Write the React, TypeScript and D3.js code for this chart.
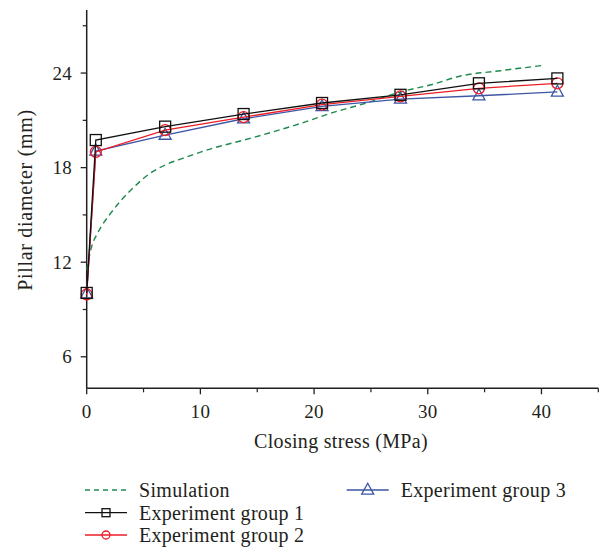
import React from "react";
import * as d3 from "d3";

const stressX = [0, 0.8, 6.9, 13.8, 20.7, 27.6, 34.5, 41.4];
const group1 = [10.05, 19.75, 20.6, 21.4, 22.1, 22.62, 23.35, 23.66];
const group2 = [9.95, 19.0, 20.38, 21.2, 22.0, 22.52, 23.03, 23.35];
const group3 = [10.0, 19.05, 20.06, 21.1, 21.88, 22.35, 22.56, 22.8];

const simX = [0, 0.4, 1.0, 2.0, 3.0, 4.2, 5.5, 7.0, 8.5, 10.5, 14.6, 18.8, 21.7, 24.6, 27.6, 30.5, 32.8, 36.4, 40.3];
const simY = [11.5, 12.9, 13.9, 15.0, 15.9, 16.8, 17.6, 18.2, 18.6, 19.1, 19.9, 20.8, 21.5, 22.1, 22.8, 23.3, 23.8, 24.15, 24.5];

const xTicks = [0, 10, 20, 30, 40];
const xMinor = [5, 15, 25, 35, 45];
const yTicks = [6, 12, 18, 24];
const yMinor = [9, 15, 21, 27];

const seriesNames = ["Simulation", "Experiment group 1", "Experiment group 2", "Experiment group 3"];

const W = 601, H = 548;
const left = 86.7, right = 598.3, top = 10, bottom = 388.3;
const FONT = "'Liberation Serif', 'DejaVu Serif', serif";
const AXIS = "#231f20";
const GREEN = "#1b8a4c";
const RED = "#ee1c25";
const BLUE = "#3d55a5";

function Marker({ kind, x, y, color, s }: { kind: string; x: number; y: number; color: string; s: number }) {
  if (kind === "square") {
    return <rect x={x - s / 2} y={y - s / 2} width={s} height={s} fill="none" stroke={color} strokeWidth={1.3} />;
  }
  if (kind === "circle") {
    return <circle cx={x} cy={y} r={s / 2} fill="none" stroke={color} strokeWidth={1.3} />;
  }
  const h = s * 0.9;
  const path = `M${x},${y - h * 0.62} L${x + s / 2},${y + h * 0.38} L${x - s / 2},${y + h * 0.38} Z`;
  return <path d={path} fill="none" stroke={color} strokeWidth={1.3} />;
}

export default function App() {
  const xs = d3.scaleLinear().domain([0, 45]).range([left, right]);
  const ys = d3.scaleLinear().domain([4, 28]).range([bottom, top]);
  const line = d3.line<[number, number]>().x((d) => xs(d[0])).y((d) => ys(d[1]));
  const simLine = d3
    .line<[number, number]>()
    .x((d) => xs(d[0]))
    .y((d) => ys(d[1]))
    .curve(d3.curveMonotoneX);

  const groups = [
    { vals: group3, color: BLUE, kind: "triangle" },
    { vals: group2, color: RED, kind: "circle" },
    { vals: group1, color: "#111", kind: "square" },
  ];

  const simPts: [number, number][] = simX.map((x, i) => [x, simY[i]]);

  const legend = [
    { name: seriesNames[0], x: 85, y: 490, color: GREEN, kind: "dash" },
    { name: seriesNames[1], x: 85, y: 512.7, color: "#111", kind: "square" },
    { name: seriesNames[2], x: 85, y: 535, color: RED, kind: "circle" },
    { name: seriesNames[3], x: 346.7, y: 490, color: BLUE, kind: "triangle" },
  ];

  return (
    <svg width={W} height={H} style={{ position: "absolute", left: 0, top: 0, background: "#fff" }} fontFamily={FONT}>
      <rect width={W} height={H} fill="#fff" />
      {/* axes */}
      <line x1={left} x2={left} y1={top} y2={bottom} stroke={AXIS} strokeWidth={1.5} />
      <line x1={left} x2={right} y1={bottom} y2={bottom} stroke={AXIS} strokeWidth={1.5} />
      {xTicks.map((t) => (
        <g key={"xt" + t}>
          <line x1={xs(t)} x2={xs(t)} y1={bottom} y2={bottom + 6} stroke={AXIS} strokeWidth={1.3} />
          <text x={xs(t)} y={418} textAnchor="middle" fontSize={19} fill={AXIS} letterSpacing={0.3}>
            {t}
          </text>
        </g>
      ))}
      {xMinor.map((t) => (
        <line key={"xm" + t} x1={xs(t)} x2={xs(t)} y1={bottom} y2={bottom + 4} stroke={AXIS} strokeWidth={1.2} />
      ))}
      {yTicks.map((t) => (
        <g key={"yt" + t}>
          <line x1={left - 6} x2={left} y1={ys(t)} y2={ys(t)} stroke={AXIS} strokeWidth={1.3} />
          <text x={72} y={ys(t)} dy="0.34em" textAnchor="end" fontSize={19} fill={AXIS} letterSpacing={0.3}>
            {t}
          </text>
        </g>
      ))}
      {yMinor.map((t) => (
        <line key={"ym" + t} x1={left - 4} x2={left} y1={ys(t)} y2={ys(t)} stroke={AXIS} strokeWidth={1.2} />
      ))}
      <text x={341} y={448} textAnchor="middle" fontSize={20} fill={AXIS} letterSpacing={0.3}>
        Closing stress (MPa)
      </text>
      <text
        transform={`translate(32,${200}) rotate(-90)`}
        textAnchor="middle"
        fontSize={20}
        fill={AXIS}
        letterSpacing={0.7}
      >
        Pillar diameter (mm)
      </text>

      {/* simulation */}
      <path d={simLine(simPts) || ""} fill="none" stroke={GREEN} strokeWidth={1.4} strokeDasharray="6,4" />

      {/* experiment groups */}
      {groups.map((g, gi) => {
        const pts: [number, number][] = stressX.map((x, i) => [x, g.vals[i]]);
        return (
          <g key={"g" + gi}>
            <path d={line(pts) || ""} fill="none" stroke={g.color} strokeWidth={1.3} />
            {pts.map((p, i) => (
              <Marker key={i} kind={g.kind} x={xs(p[0])} y={ys(p[1])} color={g.color} s={g.kind === "triangle" ? 12 : 11} />
            ))}
          </g>
        );
      })}

      {/* legend */}
      {legend.map((l, i) => (
        <g key={"lg" + i}>
          <line
            x1={l.x}
            x2={l.x + 42}
            y1={l.y}
            y2={l.y}
            stroke={l.color}
            strokeWidth={1.3}
            strokeDasharray={l.kind === "dash" ? "5,4" : undefined}
          />
          {l.kind !== "dash" && (
            <Marker kind={l.kind} x={l.x + 21} y={l.y} color={l.color} s={l.kind === "triangle" ? 12 : 8} />
          )}
          <text x={l.x + 54} y={l.y} dy="0.34em" fontSize={20} fill={AXIS} letterSpacing={0.3}>
            {l.name}
          </text>
        </g>
      ))}
    </svg>
  );
}
